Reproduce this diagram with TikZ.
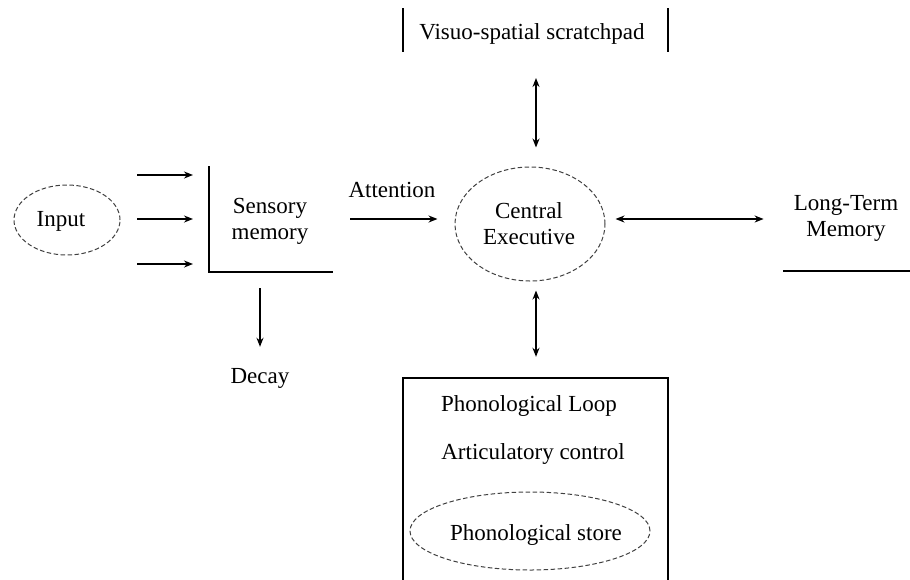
\documentclass[tikz,border=0pt]{standalone}
\usepackage{fontspec}
\setmainfont{Liberation Serif}
\usetikzlibrary{arrows.meta,shapes.geometric}
\begin{document}
\begin{tikzpicture}[x=1pt,y=-1pt,
  lbl/.style={font=\fontsize{23}{26}\selectfont, inner sep=0pt, align=center},
  dashell/.style={ellipse, draw=black!75, dashed, line width=1pt, dash pattern=on 4.5pt off 2.5pt},
  tip/.style={Stealth[length=9pt,width=7pt]},
  arr/.style={line width=1.5pt, -{Stealth[length=9pt,width=7pt]}},
  darr/.style={line width=1.5pt, {Stealth[length=9pt,width=7pt]}-{Stealth[length=9pt,width=7pt]}},
  edge/.style={line width=1.9pt}]
\useasboundingbox (0,0) rectangle (910,579);
% Input
\node[dashell, minimum width=106pt, minimum height=70pt] (inp) at (67,220) {};
\node[lbl] (inptxt) at (61,221) {Input};
% input arrows
\coordinate (a1s) at (137,175); \coordinate (a1e) at (193,175);
\coordinate (a2s) at (137,219); \coordinate (a2e) at (193,219);
\coordinate (a3s) at (137,264); \coordinate (a3e) at (193,264);
\draw[arr] (a1s) -- (a1e);
\draw[arr] (a2s) -- (a2e);
\draw[arr] (a3s) -- (a3e);
% Sensory memory
\coordinate (sTop) at (209,166); \coordinate (sCorner) at (209,272); \coordinate (sRight) at (333,272);
\draw[edge] (sTop) -- (sCorner) -- (sRight);
\node[lbl] (sens) at (270,221) {Sensory\\memory};
% Decay
\coordinate (dStart) at (260,288);
\node[lbl] (decay) at (260,378) {Decay};
\draw[arr, shorten >=21pt] (dStart) -- (decay);
% Attention
\node[lbl] (att) at (392,190) {Attention};
\coordinate (attS) at (350,219);
% Central executive
\node[dashell, minimum width=150pt, minimum height=114pt] (ce) at (530,224) {};
\node[lbl] (cetxt) at (529,224) {Central\\Executive};
\draw[arr, shorten >=17pt] (attS) -- (ce.west |- attS);
% Scratchpad
\node[lbl] (vs) at (532,34) {Visuo-spatial scratchpad};
\coordinate (vsL1) at (403,8); \coordinate (vsL2) at (403,52);
\coordinate (vsR1) at (668,8); \coordinate (vsR2) at (668,52);
\draw[line width=1.4pt] (vsL1) -- (vsL2);
\draw[line width=1.4pt] (vsR1) -- (vsR2);
\coordinate (vsB) at (536,78);
\draw[darr, shorten >=19pt] (vsB) -- (vsB |- ce.north);
% LTM
\node[lbl] (ltm) at (846,218) {Long-Term\\Memory};
\coordinate (ltmL) at (783,271); \coordinate (ltmR) at (910,271);
\draw[edge] (ltmL) -- (ltmR);
\draw[darr, shorten <=10pt, shorten >=30pt] (ce.east |- a2s) -- (ltm.west |- a2s);
% Phonological loop box (bottom edge lies below the picture)
\node[minimum width=265pt, minimum height=210pt, inner sep=0pt] (pl) at (535.5,483) {};
\draw[line width=1.7pt] (pl.south west) -- (pl.north west) -- (pl.north east) -- (pl.south east);
\node[lbl] (pltxt) at (529,406) {Phonological Loop};
\node[lbl] (arttxt) at (533,454) {Articulatory control};
\node[dashell, minimum width=240pt, minimum height=78pt] (ps) at (530,531) {};
\node[lbl] (pstxt) at (536,535) {Phonological store};
\draw[darr, shorten <=9pt, shorten >=21pt] (vsB |- ce.south) -- (vsB |- pl.north);
\end{tikzpicture}
\end{document}
